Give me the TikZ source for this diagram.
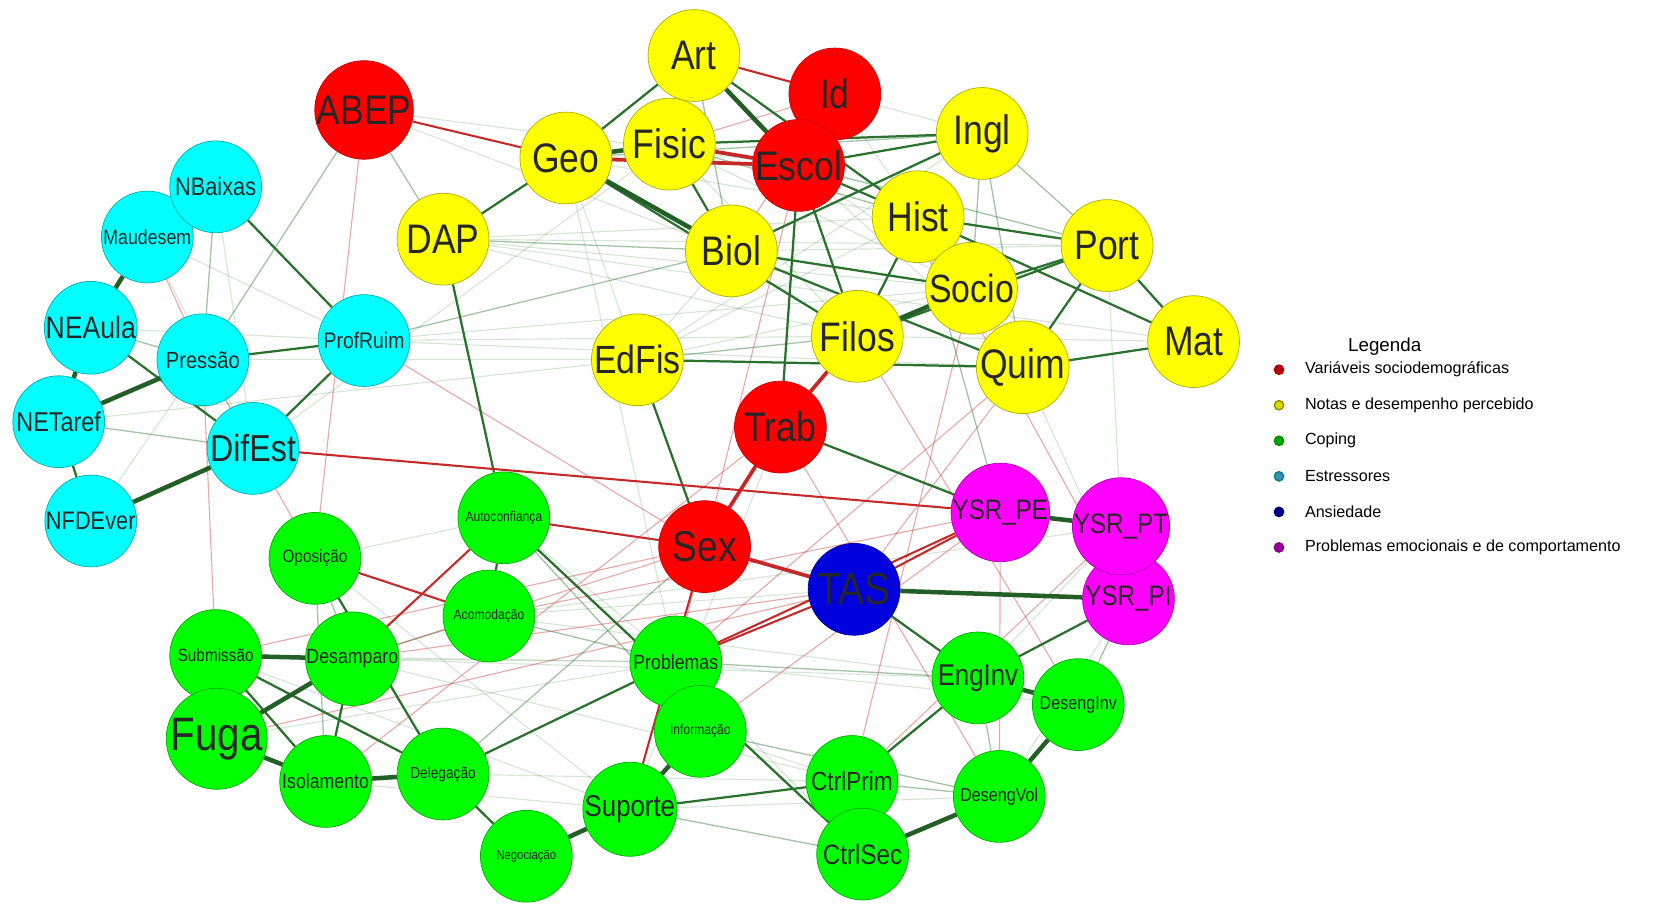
\documentclass[tikz,border=0pt]{standalone}
\usepackage{fontspec}
\setmainfont{Liberation Sans}
\newfontfamily\nwfont[FakeStretch=0.86]{Liberation Sans}
\usetikzlibrary{backgrounds}
\definecolor{demored}{HTML}{FF0000}
\definecolor{notayel}{HTML}{FFFF00}
\definecolor{estrcyan}{HTML}{00FFFF}
\definecolor{copgreen}{HTML}{00FF00}
\definecolor{ansblue}{HTML}{0000DD}
\definecolor{probmag}{HTML}{FF00FF}
\definecolor{edgegreen}{HTML}{2E7D32}
\definecolor{edgered}{HTML}{C62828}
\tikzset{
  nw node/.style={circle, minimum size=1.72cm, inner sep=0pt, text=black!85, line width=0.4pt},
  nw demo/.style={nw node, fill=demored, draw=demored!80!black},
  nw nota/.style={nw node, fill=notayel, draw=notayel!70!black},
  nw estr/.style={nw node, fill=estrcyan, draw=estrcyan!70!black},
  nw cop/.style={nw node, fill=copgreen, draw=copgreen!70!black},
  nw ans/.style={nw node, fill=ansblue, draw=ansblue!70!black},
  nw prob/.style={nw node, fill=probmag, draw=probmag!70!black},
  sz/.style={font=\nwfont\fontsize{#1}{#1}\selectfont},
  e gs/.style={draw=edgegreen!75!black, line width=2.4pt},
  e gm/.style={draw=edgegreen!90!black, line width=1.2pt},
  e gl/.style={draw=edgegreen, line width=0.7pt, opacity=0.45},
  e gf/.style={draw=edgegreen, line width=0.6pt, opacity=0.2},
  e rs/.style={draw=edgered, line width=2pt},
  e rm/.style={draw=edgered, line width=1.1pt},
  e rl/.style={draw=edgered, line width=0.6pt, opacity=0.4},
  lg dot/.style={circle, inner sep=0pt, minimum size=5pt, line width=0.7pt},
  lg text/.style={font=\fontsize{8.6}{10}\selectfont, anchor=west, inner sep=0pt},
}
\begin{document}
\begin{tikzpicture}[x=0.02cm, y=-0.02cm]
  \useasboundingbox (0,0) rectangle (1568,847);
  % estressores
  \node[nw estr, sz=11] (maudesem) at (138,222) {Maudesem};
  \node[nw estr, sz=13.5] (nbaixas) at (202,175) {NBaixas};
  \node[nw estr, sz=16.5] (neaula) at (85,307) {NEAula};
  \node[nw estr, sz=12.5] (pressao) at (190,337) {Pressão};
  \node[nw estr, sz=12] (profruim) at (341,319) {ProfRuim};
  \node[nw estr, sz=14.5] (netaref) at (55,395) {NETaref};
  \node[nw estr, sz=20] (difest) at (237,420) {DifEst};
  \node[nw estr, sz=13.5] (nfdever) at (85,488) {NFDEver};
  % sociodemograficas e notas
  \node[nw demo, sz=22] (abep) at (341,103) {ABEP};
  \node[nw nota, sz=22] (art) at (650,52) {Art};
  \node[nw demo, sz=22] (id) at (782,88) {Id};
  \node[nw nota, sz=22] (geo) at (530,148) {Geo};
  \node[nw nota, sz=22] (fisic) at (627,135) {Fisic};
  \node[nw demo, sz=22] (escol) at (748,155) {Escol};
  \node[nw nota, sz=22] (ingl) at (920,125) {Ingl};
  \node[nw nota, sz=22] (dap) at (415,224) {DAP};
  \node[nw nota, sz=22] (biol) at (685,235) {Biol};
  \node[nw nota, sz=22] (hist) at (860,203) {Hist};
  \node[nw nota, sz=22] (port) at (1037,230) {Port};
  \node[nw nota, sz=22] (filos) at (803,315) {Filos};
  \node[nw nota, sz=21] (socio) at (910,270) {Socio};
  \node[nw nota, sz=22] (quim) at (958,344) {Quim};
  \node[nw nota, sz=22] (mat) at (1118,320) {Mat};
  \node[nw nota, sz=21] (edfis) at (597,337) {EdFis};
  \node[nw demo, sz=22] (trab) at (731,400) {Trab};
  \node[nw demo, sz=23] (sex) at (660,512) {Sex};
  % ansiedade e problemas
  \node[nw ans, sz=24] (tas) at (800,552) {TAS};
  \node[nw prob, sz=15] (ysrpe) at (937,480) {YSR\_PE};
  \node[nw prob, sz=15] (ysrpi) at (1057,561) {YSR\_PI};
  \node[nw prob, sz=15] (ysrpt) at (1050,493) {YSR\_PT};
  % coping
  \node[nw cop, sz=7.5] (autoconf) at (472,485) {Autoconfiança};
  \node[nw cop, sz=9.5] (oposicao) at (295,523) {Oposição};
  \node[nw cop, sz=7.5] (acomod) at (458,577) {Acomodação};
  \node[nw cop, sz=9.5] (submissao) at (202,614) {Submissão};
  \node[nw cop, sz=11] (desamparo) at (330,617) {Desamparo};
  \node[nw cop, sz=25] (fuga) at (203,692) {Fuga};
  \node[nw cop, sz=11] (isolamento) at (305,732) {Isolamento};
  \node[nw cop, sz=8.5] (delegacao) at (415,725) {Delegação};
  \node[nw cop, sz=7] (negociacao) at (493,802) {Negociação};
  \node[nw cop, sz=16] (suporte) at (590,758) {Suporte};
  \node[nw cop, sz=11] (problemas) at (633,620) {Problemas};
  \node[nw cop, sz=7.5] (informacao) at (656,685) {Informação};
  \node[nw cop, sz=16] (enginv) at (916,635) {EngInv};
  \node[nw cop, sz=10] (desenginv) at (1010,660) {DesengInv};
  \node[nw cop, sz=14] (ctrlprim) at (798,732) {CtrlPrim};
  \node[nw cop, sz=10] (desengvol) at (936,746) {DesengVol};
  \node[nw cop, sz=15] (ctrlsec) at (808,800) {CtrlSec};

  \begin{scope}[on background layer]
    % arestas fracas
    \foreach \a/\b in {abep/biol,abep/escol,dap/hist,dap/socio,dap/port,dap/filos,dap/mat,edfis/hist,edfis/socio,
      edfis/ingl,geo/edfis,geo/problemas,fisic/filos,biol/edfis,maudesem/profruim,nbaixas/difest,profruim/quim,
      profruim/filos,pressao/edfis,difest/fisic,oposicao/autoconf,desamparo/enginv,submissao/problemas,
      informacao/ctrlprim,suporte/desengvol,problemas/ctrlsec,autoconf/problemas,acomod/tas,trab/suporte,
      profruim/socio,desamparo/problemas,isolamento/suporte,delegacao/ctrlprim,fuga/problemas,netaref/edfis,
      neaula/profruim,maudesem/difest,nfdever/pressao,quim/ysrpi,port/ysrpt,enginv/ysrpt,desengvol/ysrpi,
      acomod/enginv,oposicao/suporte,submissao/suporte,problemas/desenginv,art/ingl,id/hist,biol/port,
      fisic/socio,geo/hist,escol/socio,escol/quim,filos/mat,hist/quim,acomod/ysrpt,desamparo/ctrlprim}
      \draw[e gf] (\a) -- (\b);
    \foreach \a/\b in {nbaixas/pressao,neaula/pressao,netaref/difest,abep/dap,abep/pressao,edfis/filos,
      ingl/socio,ingl/quim,ingl/port,desamparo/oposicao,enginv/desengvol,ysrpi/desenginv,ctrlprim/desengvol,
      problemas/enginv,sex/delegacao,dap/biol,geo/ingl,fisic/hist,art/biol,escol/port,hist/ysrpe,
      informacao/desengvol,acomod/problemas,desamparo/acomod,oposicao/isolamento,autoconf/informacao,
      suporte/ctrlsec,profruim/biol,pressao/difest}
      \draw[e gl] (\a) -- (\b);
    \foreach \a/\b in {abep/oposicao,pressao/submissao,difest/oposicao,maudesem/pressao,profruim/sex,
      desamparo/sex,desamparo/tas,fuga/tas,acomod/ysrpe,quim/problemas,quim/tas,trab/desengvol,
      filos/desenginv,hist/ysrpi,escol/problemas,id/biol,submissao/sex,socio/ctrlprim,ysrpe/desengvol,
      ysrpt/ctrlprim,informacao/ysrpe,trab/isolamento,fisic/id}
      \draw[e rl] (\a) -- (\b);
    % arestas medias
    \foreach \a/\b in {neaula/difest,netaref/nfdever,pressao/profruim,profruim/difest,nbaixas/profruim,dap/geo,
      art/geo,art/hist,fisic/biol,fisic/ingl,escol/ingl,escol/hist,biol/ingl,biol/socio,biol/quim,hist/port,
      hist/mat,port/mat,port/quim,quim/mat,edfis/quim,edfis/sex,trab/ysrpe,tas/enginv,ysrpi/enginv,
      enginv/ctrlprim,ctrlprim/suporte,delegacao/negociacao,autoconf/acomod,autoconf/ctrlsec,
      submissao/isolamento,desamparo/isolamento,submissao/delegacao,oposicao/delegacao,escol/filos,
      geo/filos,escol/trab,filos/port,socio/port,dap/autoconf,hist/filos,delegacao/problemas}
      \draw[e gm] (\a) -- (\b);
    \foreach \a/\b in {autoconf/desamparo,oposicao/acomod,difest/ysrpe,sex/autoconf,sex/suporte,
      tas/problemas,abep/geo,art/id,tas/ysrpe,problemas/ysrpe}
      \draw[e rm] (\a) -- (\b);
    % arestas fortes
    \foreach \a/\b in {maudesem/neaula,neaula/netaref,netaref/pressao,nfdever/difest,geo/fisic,geo/biol,
      socio/filos,ysrpe/ysrpt,tas/ysrpi,enginv/desenginv,desenginv/desengvol,desengvol/ctrlsec,
      suporte/informacao,suporte/negociacao,submissao/desamparo,fuga/desamparo,fuga/isolamento,
      isolamento/delegacao,art/escol}
      \draw[e gs] (\a) -- (\b);
    \foreach \a/\b in {geo/escol,fisic/escol,filos/trab,trab/sex,sex/tas}
      \draw[e rs] (\a) -- (\b);
  \end{scope}

  % legenda
  \node[font=\fontsize{10}{12}\selectfont] (legtit) at (1297,325) {Legenda};
  \foreach \c/\d/\t [count=\i] in {demored!70!black/demored!70!black/Variáveis sociodemográficas,
      notayel!85!black/olive/Notas e desempenho percebido,
      green!65!black/green!55!black/Coping,
      cyan!70!black/teal/Estressores,
      blue!55!black/blue!45!black/Ansiedade,
      violet!80!magenta/violet/Problemas emocionais e de comportamento} {
    \node[lg dot, fill=\c, draw=\d] (dot\i) at (1198,313+33.3*\i) {};
    \node[lg text] (leg\i) at (1222,313+33.3*\i) {\t};
  }
\end{tikzpicture}
\end{document}
